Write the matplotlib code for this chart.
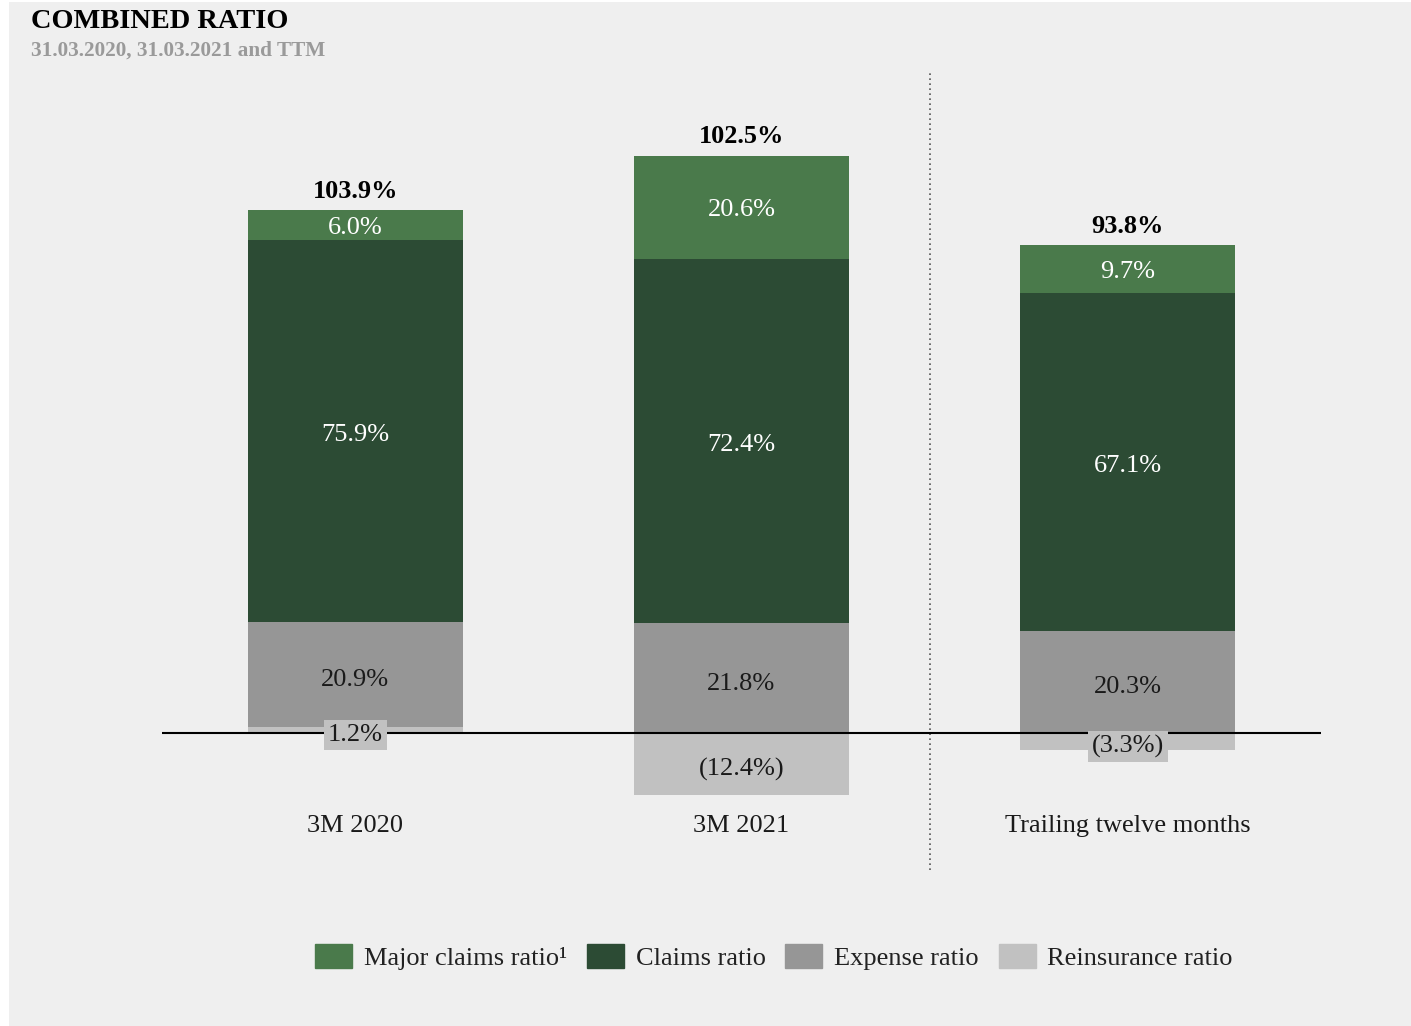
import numpy as np
import matplotlib.pyplot as plt
from matplotlib.patches import Rectangle

plt.rcParams['font.family'] = ['Liberation Serif', 'DejaVu Serif']

periods = ['3M 2020', '3M 2021', 'Trailing twelve months']
reinsurance = [1.2, -12.4, -3.3]
expense = [20.9, 21.8, 20.3]
claims = [75.9, 72.4, 67.1]
major_claims = [6.0, 20.6, 9.7]
totals = [103.9, 102.5, 93.8]

series_names = ['Major claims ratio\u00b9', 'Claims ratio', 'Expense ratio', 'Reinsurance ratio']
colors = {'major': '#4a7a4b', 'claims': '#2c4b34', 'expense': '#969696', 'reins': '#c1c1c1'}


def pct(v):
    return f'({abs(v):.1f}%)' if v < 0 else f'{v:.1f}%'


fig = plt.figure(figsize=(14.11, 10.26), dpi=100)
fig.patch.set_facecolor('white')
fig.patches.append(Rectangle((9 / 1411, 0), 1 - 9 / 1411, 1 - 2 / 1026,
                             transform=fig.transFigure, facecolor='#efefef',
                             edgecolor='none', zorder=-1))

ax = fig.add_axes([162 / 1411, 156 / 1026, 1159 / 1411, 797 / 1026])
ax.set_zorder(2)
ax.set_facecolor('none')
ax.set_xlim(-0.5, 2.5)
ax.set_ylim(-27.24, 131.21)
ax.axis('off')

x = np.arange(len(periods))
w = 0.557
fs = 19
dy = -0.8  # nudge centred labels down a touch

for i in x:
    r = reinsurance[i]
    # reinsurance sits below zero when negative, otherwise at the base
    ax.bar(i, r, w, bottom=0, color=colors['reins'], zorder=2)
    base = max(r, 0)
    r_mid = r / 2
    ax.bar(i, expense[i], w, bottom=base, color=colors['expense'], zorder=2)
    ax.text(i, base + expense[i] / 2 - 0.3 + dy, pct(expense[i]), ha='center', va='center',
            fontsize=fs, color='#1a1a1a', zorder=4)
    base += expense[i]
    ax.bar(i, claims[i], w, bottom=base, color=colors['claims'], zorder=2)
    ax.text(i, base + claims[i] / 2 + dy, pct(claims[i]), ha='center', va='center',
            fontsize=fs, color='white', zorder=4)
    base += claims[i]
    ax.bar(i, major_claims[i], w, bottom=base, color=colors['major'], zorder=2)
    ax.text(i, base + major_claims[i] / 2 + 0.2 + dy, pct(major_claims[i]), ha='center',
            va='center', fontsize=fs, color='white', zorder=4)
    base += major_claims[i]
    ax.text(i, base + 1.4, pct(totals[i]), ha='center', va='bottom',
            fontsize=18.9, fontweight='bold', color='black', zorder=4)
    ax.text(i, r_mid - 0.2 + dy, pct(r), ha='center', va='center', fontsize=fs,
            color='#1a1a1a', zorder=5,
            bbox=dict(boxstyle='square,pad=0.15', facecolor=colors['reins'], edgecolor='none'))
    ax.text(i, -17.7 + dy, periods[i], ha='center', va='center', fontsize=fs, color='#1a1a1a')

ax.axhline(0, color='black', lw=1.5, zorder=3)
ax.axvline(1.487, color='#555555', lw=1.2, ls=(0, (1, 2)), zorder=1)

fig.text(31 / 1411, 1 - 21 / 1026, 'COMBINED RATIO', fontsize=20.4, fontweight='bold',
         color='black', va='center', ha='left')
fig.text(31 / 1411, 1 - 51 / 1026, '31.03.2020, 31.03.2021 and TTM', fontsize=15.3,
         fontweight='bold', color='#9a9a9a', va='center', ha='left')

handles = [Rectangle((0, 0), 1, 1, color=colors[k]) for k in ['major', 'claims', 'expense', 'reins']]
leg = fig.legend(handles, series_names, loc='center', bbox_to_anchor=(774 / 1411, 1 - 957 / 1026),
                 ncol=4, frameon=False, fontsize=19, handlelength=1.4, handleheight=1.06,
                 handletextpad=0.45, columnspacing=0.75)
for t in leg.get_texts():
    t.set_color('#222222')

fig.savefig('out.png', dpi=100, facecolor=fig.get_facecolor())
